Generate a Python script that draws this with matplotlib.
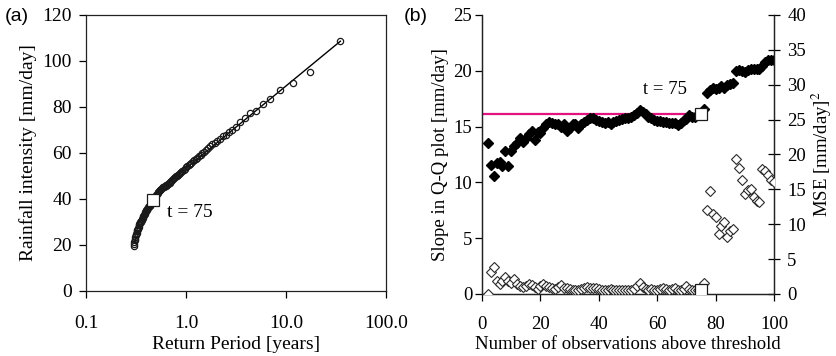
import numpy as np
import matplotlib
matplotlib.use("Agg")
import matplotlib.pyplot as plt

plt.rcParams["font.family"] = ["Liberation Serif", "DejaVu Serif"]
plt.rcParams["mathtext.fontset"] = "stix"

# ---- panel (a): return period vs rainfall intensity ----
return_period = [
    35.0, 17.5, 11.67, 8.75, 7.0, 5.83, 5.0, 4.375, 3.889, 3.5,
    3.182, 2.917, 2.692, 2.5, 2.333, 2.188, 2.059, 1.944, 1.842, 1.75,
    1.667, 1.591, 1.522, 1.458, 1.4, 1.346, 1.296, 1.25, 1.207, 1.167,
    1.129, 1.094, 1.061, 1.029, 1.0, 0.972, 0.946, 0.921, 0.897, 0.875,
    0.854, 0.833, 0.814, 0.795, 0.778, 0.761, 0.745, 0.729, 0.714, 0.7,
    0.686, 0.673, 0.660, 0.648, 0.636, 0.625, 0.614, 0.603, 0.593, 0.583,
    0.574, 0.565, 0.556, 0.547, 0.538, 0.530, 0.522, 0.515, 0.507, 0.5,
    0.493, 0.486, 0.479, 0.473, 0.467, 0.461, 0.455, 0.449, 0.443, 0.4375,
    0.432, 0.427, 0.422, 0.417, 0.412, 0.407, 0.402, 0.398, 0.393, 0.389,
    0.385, 0.380, 0.376, 0.372, 0.368, 0.365, 0.361, 0.357, 0.354, 0.35,
    0.347, 0.343, 0.340, 0.337, 0.333, 0.330, 0.327, 0.324, 0.321, 0.318,
    0.315, 0.3125, 0.310, 0.307, 0.304, 0.302, 0.299,
]
intensity = [
    108.5, 95.0, 90.3, 87.4, 83.5, 81.3, 78.3, 77.6, 75.2, 73.3,
    71.5, 70.2, 69.0, 68.0, 67.2, 66.3, 65.3, 64.5, 63.8, 62.9,
    62.2, 61.3, 60.6, 60.0, 59.2, 58.7, 58.0, 57.6, 56.9, 56.4,
    55.8, 55.4, 54.8, 54.3, 53.8, 53.2, 52.8, 52.3, 51.9, 51.4,
    51.0, 50.6, 50.2, 49.8, 49.4, 49.0, 48.6, 48.3, 47.9, 47.5,
    47.1, 46.8, 46.5, 46.2, 45.9, 45.7, 45.5, 45.3, 45.1, 45.0,
    44.7, 44.4, 44.1, 43.8, 43.5, 43.1, 42.7, 42.2, 41.7, 41.2,
    40.8, 40.3, 39.9, 39.6, 39.4, 39.0, 38.6, 38.2, 37.8, 37.5,
    37.1, 36.8, 36.5, 36.1, 35.8, 35.4, 35.0, 34.6, 34.2, 33.8,
    33.4, 33.0, 32.6, 32.2, 31.8, 31.4, 31.0, 30.6, 30.2, 29.8,
    29.4, 29.0, 28.5, 28.0, 27.5, 27.0, 26.5, 26.0, 25.4, 24.8,
    24.2, 23.5, 22.8, 22.0, 21.2, 20.4, 19.7,
]
fit_T = [0.467, 35.0]
fit_y = [41.5, 108.6]
thr_T = 0.467
thr_y = 39.4

# ---- panel (b): slope and MSE vs number of exceedances ----
n_obs = np.arange(2, 101)
slope = [
    13.5, 11.6, 10.6, 11.7, 11.8, 11.5, 12.8, 11.5, 12.8, 13.3,
    13.5, 14.0, 13.6, 14.0, 14.3, 14.6, 13.8, 14.5, 14.4, 14.9,
    15.2, 15.4, 15.3, 15.2, 15.2, 15.0, 15.2, 14.6, 14.9, 15.2,
    15.2, 14.9, 15.2, 15.4, 15.6, 15.8, 15.8, 15.6, 15.5, 15.4,
    15.3, 15.4, 15.2, 15.4, 15.5, 15.6, 15.7, 15.8, 15.8, 15.9,
    16.0, 16.2, 16.5, 16.3, 16.1, 15.9, 15.8, 15.6, 15.5, 15.5,
    15.4, 15.4, 15.3, 15.3, 15.3, 15.1, 15.3, 15.6, 15.7, 16.0,
    15.9, 15.9, 16.0, 16.1, 16.6, 18.0, 18.3, 18.5, 18.4, 18.5,
    18.6, 18.5, 18.7, 18.8, 18.9, 20.0, 20.1, 20.0, 19.9, 20.1,
    20.2, 20.2, 20.2, 20.2, 20.4, 20.8, 21.0, 21.0, 21.0,
]
mse = [
    0.0, 3.2, 3.9, 1.9, 1.5, 1.8, 2.5, 1.8, 1.6, 2.1,
    1.4, 1.1, 1.0, 1.2, 1.4, 1.3, 1.0, 0.7, 1.2, 1.5,
    1.2, 1.0, 0.8, 0.7, 1.0, 1.3, 0.9, 0.8, 0.7, 0.6,
    0.6, 0.6, 0.7, 0.9, 1.0, 0.9, 0.8, 0.8, 0.7, 0.6,
    0.6, 0.6, 0.7, 0.6, 0.6, 0.5, 0.5, 0.6, 0.6, 0.5,
    0.7, 1.1, 1.6, 1.0, 0.7, 0.6, 0.7, 0.6, 0.6, 0.7,
    0.8, 0.7, 0.6, 0.7, 0.8, 0.6, 0.5, 0.7, 1.1, 0.7,
    0.5, 0.6, 0.5, 0.6, 1.6, 12.1, 14.7, 11.4, 11.0, 8.6,
    9.7, 10.3, 8.1, 9.1, 9.3, 19.3, 18.0, 16.4, 14.3, 14.9,
    15.0, 13.9, 13.4, 13.2, 17.9, 17.6, 17.0, 16.3, 16.0,
]
t_sel = 75
slope_sel = 16.1
mse_sel = 0.6

FS_A = 14
FS_B = 13.5

fig = plt.figure(figsize=(8.37, 3.56), dpi=100)

# =========================
# (a)
# =========================
ax1 = fig.add_axes([0.1027, 0.1826, 0.3584, 0.7753])
ax1.plot(fit_T, fit_y, color="black", lw=1.0, zorder=2)
ax1.plot(return_period, intensity, "o", ms=4.5, mfc="none", mec="#1a1a1a", mew=0.9, zorder=3)
ax1.plot([thr_T], [thr_y], "s", ms=8, mfc="white", mec="#1a1a1a", mew=0.9, zorder=4)
ax1.text(0.64, 34.3, "t = 75", fontsize=FS_A, va="center", ha="left")
ax1.set_xscale("log")
ax1.set_xlim(0.1, 100)
ax1.set_ylim(0, 120)
ax1.set_xticks([0.1, 1, 10, 100])
ax1.set_xticklabels(["0.1", "1.0", "10.0", "100.0"])
ax1.xaxis.set_minor_locator(matplotlib.ticker.NullLocator())
ax1.set_yticks(range(0, 121, 20))
ax1.tick_params(axis="both", labelsize=FS_A, direction="out", length=5, width=0.9)
ax1.tick_params(axis="x", pad=12)
ax1.tick_params(axis="y", pad=5)
ax1.set_xlabel("Return Period [years]", fontsize=FS_A, labelpad=3)
ax1.set_ylabel("Rainfall intensity [mm/day]", fontsize=FS_A, labelpad=4)
for s in ax1.spines.values():
    s.set_linewidth(0.9)
    s.set_color("#222222")
fig.text(0.006, 0.955, "(a)", fontsize=14, family=["Liberation Sans", "DejaVu Sans"], va="center")

# =========================
# (b)
# =========================
ax2 = fig.add_axes([0.5759, 0.1742, 0.3489, 0.7837])
ax3 = ax2.twinx()
ax2.plot([0, t_sel], [slope_sel, slope_sel], color="#e2127f", lw=1.6, zorder=2)
ax2.plot(n_obs, slope, "D", ms=4.6, color="black", mec="black", zorder=3)
ax2.plot([t_sel], [slope_sel], "s", ms=8, mfc="white", mec="#1a1a1a", mew=0.9, zorder=5)
ax2.text(55, 18.3, "t = 75", fontsize=FS_B, va="center", ha="left")
ax3.plot(n_obs, mse, "D", ms=4.6, mfc="white", mec="#2a2a2a", mew=0.8, zorder=3)
ax3.plot([t_sel], [mse_sel], "s", ms=8, mfc="white", mec="#1a1a1a", mew=0.9, zorder=5)

ax2.set_xlim(0, 100)
ax2.set_ylim(0, 25)
ax3.set_ylim(0, 40)
ax2.set_xticks(range(0, 101, 20))
ax2.set_yticks(range(0, 26, 5))
ax3.set_yticks(range(0, 41, 5))
ax2.tick_params(axis="both", labelsize=FS_B, direction="out", length=5, width=0.9)
ax2.tick_params(axis="x", pad=11)
ax2.tick_params(axis="y", pad=2)
ax3.tick_params(axis="y", labelsize=FS_B, direction="inout", length=9, width=0.9, pad=5)
ax2.set_xlabel("Number of observations above threshold", fontsize=FS_B, labelpad=2)
ax2.set_ylabel("Slope in Q-Q plot [mm/day]", fontsize=FS_B, labelpad=3)
ax3.set_ylabel("MSE [mm/day]$^2$", fontsize=FS_B, labelpad=3)
for a in (ax2, ax3):
    a.spines["top"].set_visible(False)
    for s in a.spines.values():
        s.set_linewidth(0.9)
        s.set_color("#222222")
fig.text(0.482, 0.955, "(b)", fontsize=14, family=["Liberation Sans", "DejaVu Sans"], va="center")

fig.savefig("out.png", dpi=100)
